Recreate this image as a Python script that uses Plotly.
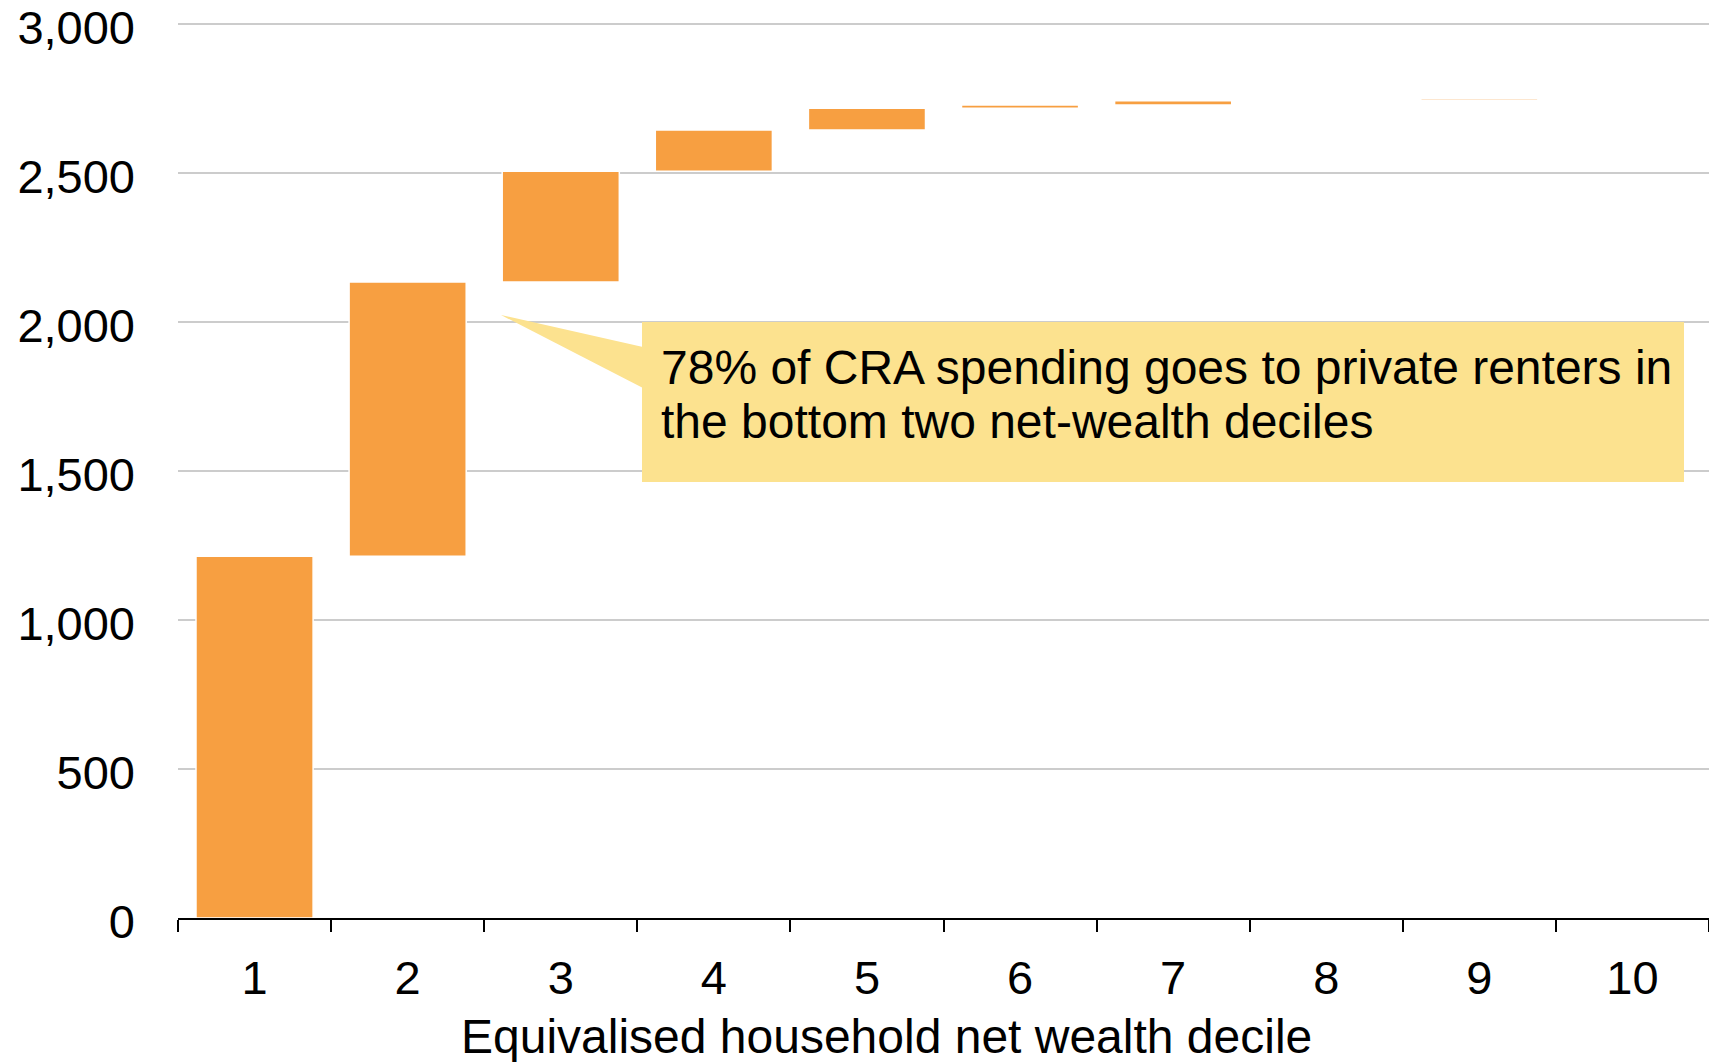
import plotly.graph_objects as go

# Increase in CRA spending contributed by each net-wealth decile (cumulative waterfall)
deciles = ["1", "2", "3", "4", "5", "6", "7", "8", "9", "10"]
contributions = [1214, 920, 372, 138, 73, 11, 14, 3, 6, 2]

y_ticks = [0, 500, 1000, 1500, 2000, 2500, 3000]
x_title = "Equivalised household net wealth decile"
callout_lines = [
    "78% of CRA spending goes to private renters in",
    "the bottom two net-wealth deciles",
]

BAR = "#F79F41"
CALLOUT = "#FCE28F"
FONT = "Liberation Sans, Arial, sans-serif"

W, H = 1709, 1062
Y_MAX = 3020
M_L, M_R, M_B = 178, 0, 144
M_T = 24 - round((Y_MAX - 3000) * 893.7 / 3000)
PW, PH = W - M_L - M_R, H - M_T - M_B


def px(x):
    return (x - M_L) / PW


def py(y):
    return (H - M_B - y) / PH


fig = go.Figure(
    go.Waterfall(
        x=deciles,
        y=contributions,
        measure=["relative"] * len(contributions),
        increasing=dict(marker=dict(color=BAR, line=dict(color="white", width=1.5))),
        connector=dict(visible=False),
        hoverinfo="skip",
        showlegend=False,
    )
)

# Callout box with pointer
box_l, box_r, box_t, box_b = 642, 1684, 322, 482
fig.add_shape(
    type="rect", xref="paper", yref="paper",
    x0=px(box_l), x1=px(box_r), y0=py(box_b), y1=py(box_t),
    fillcolor=CALLOUT, line=dict(width=0), layer="above",
)
tip = (501, 315)
fig.add_shape(
    type="path", xref="paper", yref="paper",
    path=(f"M {px(tip[0])},{py(tip[1])} L {px(box_l + 1)},{py(347)} "
          f"L {px(box_l + 1)},{py(388)} Z"),
    fillcolor=CALLOUT, line=dict(width=0), layer="above",
)
for i, line in enumerate(callout_lines):
    fig.add_annotation(
        text=line, xref="paper", yref="paper",
        x=px(659), y=py(367 + 54.5 * i), xanchor="left", yanchor="middle",
        showarrow=False, font=dict(size=48, color="black", family=FONT),
    )

fig.add_annotation(
    text=x_title, xref="paper", yref="paper",
    x=px(886), y=py(1036), xanchor="center", yanchor="middle",
    showarrow=False, font=dict(size=48, color="black", family=FONT),
)

fig.update_layout(
    width=W, height=H,
    margin=dict(l=M_L, r=M_R, t=M_T, b=M_B, pad=0),
    paper_bgcolor="white", plot_bgcolor="white",
    font=dict(family=FONT, size=47, color="black"),
    waterfallgap=0.235,
    xaxis=dict(
        type="category",
        showline=True, linecolor="black", linewidth=1.5,
        ticks="outside", ticklen=12, tickwidth=1.5, tickcolor="black",
        tickson="boundaries", showgrid=False,
        tickfont=dict(size=47), ticklabelstandoff=18,
    ),
    yaxis=dict(
        range=[0, Y_MAX], tickvals=y_ticks, tickformat=",",
        showgrid=True, gridcolor="#CCCCCC", gridwidth=1.5,
        zeroline=False, showline=False, ticks="",
        tickfont=dict(size=47), ticklabelstandoff=42, ticklabelshift=4,
        ticklabeloverflow="allow", automargin=False,
    ),
)

fig.write_html("out.html")
